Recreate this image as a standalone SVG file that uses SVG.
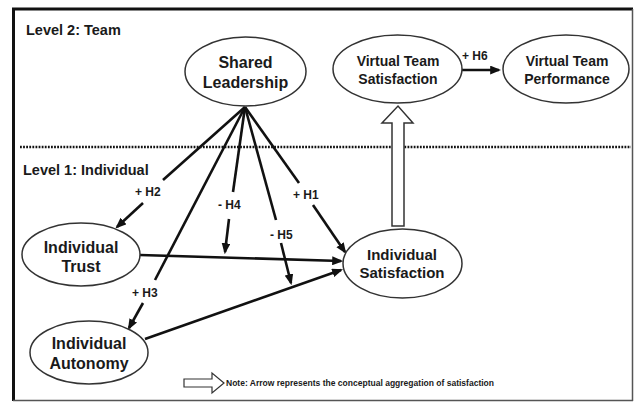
<svg xmlns="http://www.w3.org/2000/svg" width="634" height="402" viewBox="0 0 634 402">
<style>
text{font-family:"Liberation Sans",Arial,Helvetica,sans-serif;font-weight:bold;fill:#1a1a1a}
.node ellipse{fill:#fff;stroke:#333;stroke-width:1.5}
.big{font-size:16px}
.mid{font-size:15px}
.sm{font-size:14px}
.lvl{font-size:14.5px}
.lbl{font-size:12px}
.conn line,.conn path{stroke:#111;stroke-width:2.6;fill:none}
.conn .head{marker-end:url(#ah)}
.hollow{fill:#fff;stroke:#333;stroke-width:1.5}
</style>
<defs>
<marker id="ah" viewBox="0 0 10 8" refX="8" refY="4" markerWidth="11" markerHeight="9" markerUnits="userSpaceOnUse" orient="auto">
<path d="M0,0 L10,4 L0,8 z" fill="#111"/>
</marker>
</defs>
<rect x="0" y="0" width="634" height="402" fill="#fff"/>
<g id="frame">
<path d="M12,9 H633" stroke="#111" stroke-width="3"/>
<path d="M13.5,8 V401" stroke="#111" stroke-width="3"/>
<path d="M632.5,9 V401" stroke="#555" stroke-width="1.5"/>
<path d="M13,400.5 H633" stroke="#555" stroke-width="1.5"/>
</g>
<text x="26" y="35" class="lvl">Level 2: Team</text>
<line x1="20" y1="147" x2="631" y2="147" stroke="#111" stroke-width="2.3" stroke-dasharray="1.8 1.3"/>
<text x="23" y="175" class="lvl">Level 1: Individual</text>

<g id="connectors" class="conn">
<line x1="245" y1="107" x2="163" y2="180"/>
<line class="head" x1="143" y1="203" x2="117" y2="227"/>
<line x1="245" y1="107" x2="155" y2="280"/>
<line class="head" x1="143" y1="303" x2="129" y2="328"/>
<line x1="245" y1="107" x2="233" y2="192"/>
<line class="head" x1="229" y1="219" x2="225" y2="252"/>
<line x1="245" y1="107" x2="276" y2="220"/>
<line class="head" x1="281" y1="243" x2="291" y2="283"/>
<line x1="245" y1="107" x2="299" y2="183"/>
<line class="head" x1="313" y1="205" x2="345" y2="252"/>
<line class="head" x1="140" y1="255" x2="341" y2="261"/>
<line class="head" x1="145" y1="339" x2="341" y2="270"/>
<line class="head" x1="462" y1="70" x2="499" y2="70"/>
<polygon class="hollow" points="392,226 392,123 382,123 398,106 413,123 404,123 404,226"/>
</g>

<g id="hyp-labels">
<text x="135" y="196" class="lbl">+ H2</text>
<text x="132" y="297" class="lbl">+ H3</text>
<text x="218" y="209" class="lbl">- H4</text>
<text x="270" y="239" class="lbl">- H5</text>
<text x="293" y="199" class="lbl">+ H1</text>
<text x="462" y="60" class="lbl">+ H6</text>
</g>

<g id="shared-leadership" class="node">
<ellipse cx="245.5" cy="71.5" rx="60.5" ry="34.5"/>
<text x="245.5" y="68" text-anchor="middle" class="big">Shared</text>
<text x="245.5" y="88" text-anchor="middle" class="big">Leadership</text>
</g>
<g id="vt-satisfaction" class="node">
<ellipse cx="397.5" cy="69" rx="64.5" ry="34"/>
<text x="398" y="66" text-anchor="middle" class="sm">Virtual Team</text>
<text x="398" y="84" text-anchor="middle" class="sm">Satisfaction</text>
</g>
<g id="vt-performance" class="node">
<ellipse cx="566" cy="69" rx="63" ry="34"/>
<text x="567" y="66" text-anchor="middle" class="sm">Virtual Team</text>
<text x="567" y="84" text-anchor="middle" class="sm">Performance</text>
</g>
<g id="individual-trust" class="node">
<ellipse cx="81" cy="254.5" rx="59" ry="31.5"/>
<text x="81" y="253" text-anchor="middle" class="big">Individual</text>
<text x="81" y="272" text-anchor="middle" class="big">Trust</text>
</g>
<g id="individual-autonomy" class="node">
<ellipse cx="89" cy="352.5" rx="59" ry="31.5"/>
<text x="89" y="349" text-anchor="middle" class="big">Individual</text>
<text x="89" y="369" text-anchor="middle" class="big">Autonomy</text>
</g>
<g id="individual-satisfaction" class="node">
<ellipse cx="402.5" cy="263.5" rx="59.5" ry="34.5"/>
<text x="402" y="260" text-anchor="middle" class="mid">Individual</text>
<text x="402" y="278" text-anchor="middle" class="mid">Satisfaction</text>
</g>

<g id="note">
<polygon points="184,379 212,379 212,373 224,383 212,393 212,387 184,387" fill="#fff" stroke="#333" stroke-width="1.2"/>
<text x="226" y="386" font-size="8.5" textLength="268" lengthAdjust="spacingAndGlyphs">Note: Arrow represents the conceptual aggregation of satisfaction</text>
</g>
</svg>
